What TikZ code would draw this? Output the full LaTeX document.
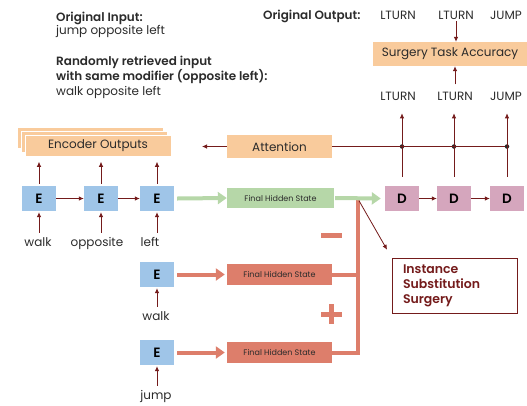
\documentclass[tikz,border=0pt]{standalone}
\usepackage{fontspec}
\setmainfont{Poppins}[BoldFont={Poppins SemiBold}]
\usetikzlibrary{positioning,arrows.meta,shadows}
\definecolor{peach}{HTML}{F9CB9C}
\definecolor{eblue}{HTML}{9FC5E8}
\definecolor{dpink}{HTML}{D5A6BD}
\definecolor{hgreen}{HTML}{B6D7A8}
\definecolor{salmon}{HTML}{DD7E6B}
\definecolor{darkred}{HTML}{741B1B}
\definecolor{txtgray}{HTML}{2B2B2B}
\tikzset{
  ebox/.style={fill=eblue,minimum width=34pt,minimum height=25pt,inner sep=0pt,text=black,font=\fontsize{13.5}{14}\selectfont\bfseries},
  dbox/.style={ebox,fill=dpink},
  hsbox/.style={minimum width=105pt,minimum height=21pt,inner sep=0pt,font=\fontsize{8}{9}\selectfont},
  peachbox/.style={fill=peach,inner sep=0pt,font=\fontsize{12}{14}\selectfont},
  word/.style={inner sep=1pt,font=\fontsize{12}{14}\selectfont},
  arr/.style={draw=darkred,line width=0.8pt,-{Latex[length=5pt,width=4.5pt]}},
  fatarr/.style={line width=4pt,-{Triangle[length=9pt,width=12pt]}},
  jdot/.style={circle,fill=black!85,inner sep=0pt,minimum size=4.5pt},
}
\begin{document}
\begin{tikzpicture}[x=1pt,y=-1pt,color=txtgray]
\useasboundingbox (0,0) rectangle (527,405);

% what goes in
\node[word,anchor=base west] (origin) at (55,21) {\bfseries Original Input:};
\node[word,anchor=base west] (originseq) at (55,34) {jump opposite left};
\node[word,anchor=base west] (randin) at (55,65) {\bfseries Randomly retrieved input};
\node[word,anchor=base west] (randmod) at (55,80) {\bfseries with same modifier (opposite left):};
\node[word,anchor=base west] (randseq) at (55,95) {walk opposite left};

% what comes out
\node[word,anchor=base west] (origout) at (262,19) {\bfseries Original Output:};
\node[word,anchor=base] (oa) at (398,19) {LTURN};
\node[word,anchor=base] (ob) at (456,19) {LTURN};
\node[word,anchor=base] (oc) at (506,19) {JUMP};
\node[peachbox,minimum width=154pt,minimum height=24pt] (acc) at (450,54) {Surgery Task Accuracy};
\node[word,anchor=base] (pa) at (398,100) {LTURN};
\node[word,anchor=base] (pb) at (455,100) {LTURN};
\node[word,anchor=base] (pc) at (506,100) {JUMP};

\draw[arr,shorten <=1pt] (ob.south) -- (ob.south |- acc.north);
\draw[arr,shorten <=6pt] (pb.north) -- (pb.north |- acc.south);

% encoder
\node[peachbox,minimum width=146pt,minimum height=21pt,draw=white,line width=0.5pt,
  double copy shadow={shadow xshift=-4pt,shadow yshift=4pt,fill=peach,draw=white,line width=0.5pt}]
  (encout) at (98,146) {Encoder Outputs};
\node[ebox] (e1) at (39,198.5) {E};
\node[ebox] (e2) at (101,198.5) {E};
\node[ebox] (e3) at (157,198.5) {E};
\node[word,anchor=base] (w1) at (38,246) {walk};
\node[word,anchor=base] (w2) at (97,246) {opposite};
\node[word,anchor=base] (w3) at (150,246) {left};

\draw[arr] (e1) -- (e2);
\draw[arr] (e2) -- (e3);
\foreach \e/\w in {e1/w1,e2/w2,e3/w3}{
  \draw[arr,shorten <=3pt,shorten >=1pt] (\e.south |- \w.north) -- (\e.south);
  \draw[arr,shorten <=2pt,shorten >=5pt] (\e.north) -- (\e.north |- encout.south);
}

% replacement inputs
\node[ebox] (e4) at (157,274.5) {E};
\node[ebox] (e5) at (157,352.5) {E};
\node[word,anchor=base] (w4) at (156,320) {walk};
\node[word,anchor=base] (w5) at (156,399) {jump};
\draw[arr,shorten <=3pt,shorten >=1pt] (e4.south |- w4.north) -- (e4.south);
\draw[arr,shorten <=3pt,shorten >=1pt] (e5.south |- w5.north) -- (e5.south);

% hidden states
\node[hsbox,fill=hgreen,minimum width=107pt,minimum height=20pt] (hs0) at (280.5,198) {Final Hidden State};
\node[hsbox,fill=salmon] (hs1) at (279.5,274.5) {Final Hidden State};
\node[hsbox,fill=salmon] (hs2) at (279.5,352.5) {Final Hidden State};

% decoder
\node[dbox] (d1) at (402,198.5) {D};
\node[dbox] (d2) at (454,198.5) {D};
\node[dbox] (d3) at (507,198.5) {D};
\draw[arr] (d1) -- (d2);
\draw[arr] (d2) -- (d3);

% attention
\node[peachbox,minimum width=105pt,minimum height=23pt] (attn) at (279.5,146.5) {Attention};
\coordinate (attin) at (202,146.5);
\draw[arr] (attn.west) -- (attin);
\node[jdot] (j1) at (d1 |- attn) {};
\node[jdot] (j2) at (d2 |- attn) {};
\node[jdot] (j3) at (d3 |- attn) {};
\draw[darkred,line width=0.8pt] (attn.east) -- (j3);
\foreach \d/\p in {d1/pa,d2/pb,d3/pc}{
  \draw[arr,shorten <=9pt,shorten >=12pt] (\d.north) -- (\d.north |- \p.south);
}

% surgery: subtract walk, add jump
\coordinate (join) at (358,199);
\draw[salmon,line width=4pt] (hs1.east) -| (join);
\draw[salmon,line width=4pt] (hs2.east) -| (join);
\fill[salmon] (321,233) rectangle (342,238);
\fill[salmon] (321,311.5) rectangle (342,316.5);
\fill[salmon] (328.5,304) rectangle (333.5,323.5);

\draw[fatarr,hgreen] (e3.east) ++(3,0) -- (hs0.west);
\draw[fatarr,hgreen] (hs0.east) ++(1,0) -- ([xshift=-4pt]d1.west);
\draw[fatarr,salmon] (e4.east) ++(3,0) -- ([xshift=-2pt]hs1.west);
\draw[fatarr,salmon] (e5.east) ++(3,0) -- ([xshift=-2pt]hs2.west);

\node[draw=darkred,line width=0.9pt,text=darkred,text width=103pt,inner xsep=11pt,align=left,
  minimum width=125pt,minimum height=55pt,font=\fontsize{12.5}{15}\selectfont\bfseries]
  (iss) at (454.5,285.5) {Instance\\Substitution\\Surgery};
\draw[arr,shorten <=2pt,shorten >=9pt] (join) -- (iss.north west);

\end{tikzpicture}
\end{document}
